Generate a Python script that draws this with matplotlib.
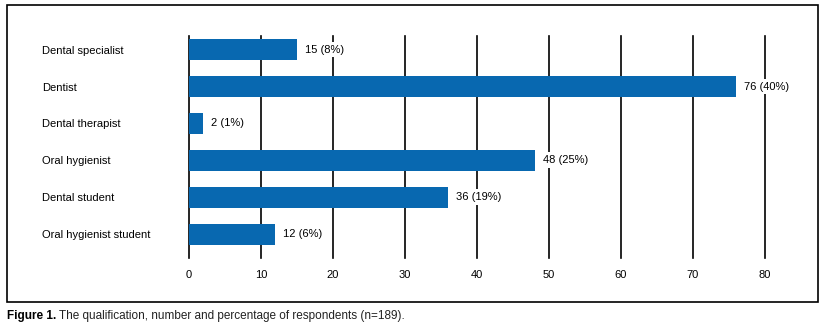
import matplotlib
matplotlib.use("Agg")
import matplotlib.pyplot as plt
from matplotlib.patches import Rectangle

plt.rcParams["font.family"] = ["Liberation Sans", "DejaVu Sans"]

categories = ["Dental specialist", "Dentist", "Dental therapist",
              "Oral hygienist", "Dental student", "Oral hygienist student"]
counts = [15, 76, 2, 48, 36, 12]
percents = [8, 40, 1, 25, 19, 6]
xticks = [0, 10, 20, 30, 40, 50, 60, 70, 80]

W, H = 822, 334
fig = plt.figure(figsize=(W / 100, H / 100), dpi=100)
ax = fig.add_axes([189 / W, (H - 258) / H, (765 - 189) / W, (258 - 36) / H])

ys = list(range(len(categories)))
ax.barh(ys, counts, height=0.57, color="#0868B0", zorder=3)
for y, c, p in zip(ys, counts, percents):
    ax.text(c + 1.1, y, "%d (%d%%)" % (c, p), va="center", ha="left", fontsize=8,
            zorder=5, bbox=dict(facecolor="white", edgecolor="none", pad=2))

ax.set_xlim(0, 80)
ax.set_ylim(5.65, -0.37)
ax.set_xticks(xticks)
for x in xticks:
    ax.axvline(x, color="black", lw=1.2, zorder=2, clip_on=False)
for s in ax.spines.values():
    s.set_visible(False)
ax.set_yticks(ys)
ax.set_yticklabels(categories, fontsize=8, ha="left")
ax.tick_params(axis="y", length=0, pad=(189 - 42) * 0.72)
ax.tick_params(axis="x", length=0, pad=9, labelsize=8)

# frame around the figure panel
fig.patches.append(Rectangle((7 / W, (H - 302) / H), (818 - 7) / W, (302 - 5) / H,
                             transform=fig.transFigure, fill=False, lw=1.2,
                             edgecolor="black"))

# caption
t1 = fig.text(7 / W, (H - 316) / H, "Figure 1.", fontsize=8.5, fontweight="bold",
              va="center", ha="left")
fig.canvas.draw()
bb = t1.get_window_extent()
fig.text((bb.x1 + 3) / W, (H - 316) / H,
         "The qualification, number and percentage of respondents (n=189).",
         fontsize=8.5, va="center", ha="left", color="#222222")

fig.savefig("out.png", dpi=100)
